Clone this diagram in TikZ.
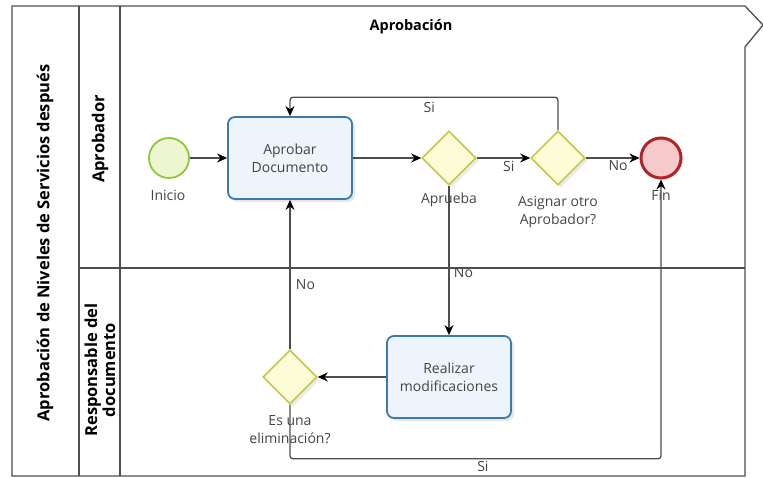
\documentclass[tikz,border=0pt]{standalone}
\usepackage{fontspec}
\setmainfont{Open Sans}
\usetikzlibrary{shapes.geometric, arrows.meta, shadows}

\definecolor{lineGray}{HTML}{4E4E4E}
\definecolor{txtGray}{HTML}{444444}
\definecolor{startLine}{HTML}{8DC63F}
\definecolor{startFill}{HTML}{EEF6CF}
\definecolor{taskLine}{HTML}{3A7BAA}
\definecolor{taskFill}{HTML}{EDF4FB}
\definecolor{gateLine}{HTML}{C5C84A}
\definecolor{gateFill}{HTML}{FCFCD6}
\definecolor{endLine}{HTML}{B0252A}
\definecolor{endFill}{HTML}{F6CACA}

\begin{document}
\begin{tikzpicture}[x=1pt, y=-1pt,
  pool/.style={draw=lineGray, line width=1.3pt},
  lanelabel/.style={font=\fontsize{16.5}{18}\selectfont\bfseries, rotate=90, align=center, text=black},
  startev/.style={circle, draw=startLine, fill=startFill, line width=1.8pt, minimum size=40pt, inner sep=0pt},
  endev/.style={circle, draw=endLine, fill=endFill, line width=3pt, minimum size=40pt, inner sep=0pt,
    drop shadow={shadow xshift=2pt, shadow yshift=-2pt, opacity=0.15}},
  task/.style={rectangle, rounded corners=7pt, draw=taskLine, fill=taskFill, line width=1.8pt,
    minimum width=124pt, minimum height=82pt, align=center, text=txtGray,
    font=\fontsize{14}{18}\selectfont,
    drop shadow={shadow xshift=3pt, shadow yshift=-3pt, opacity=0.2}},
  gateway/.style={diamond, aspect=1, draw=gateLine, fill=gateFill, line width=1.6pt,
    minimum width=54pt, minimum height=54pt, inner sep=0pt,
    drop shadow={shadow xshift=3pt, shadow yshift=-3pt, opacity=0.15}},
  caption/.style={font=\fontsize{14}{18}\selectfont, text=txtGray, align=center},
  flow/.style={draw=lineGray, line width=1.3pt, rounded corners=3pt,
    -{Stealth[length=10pt, width=9pt, color=black]}}
]
\useasboundingbox (0,0) rectangle (763,478);

% Pool frame with chevron on the right
\draw[pool] (12,6) -- (745,6) -- (763,25) -- (745,47) -- (745,476) -- (12,476) -- cycle;
\draw[pool] (79,6) -- (79,476);
\draw[pool] (120,6) -- (120,476);
\draw[pool] (79,268) -- (745,268);

% Pool and lane labels
\node[font=\fontsize{14.5}{16}\selectfont\bfseries] (title) at (411,27) {Aprobación};
\node[lanelabel] (poollbl) at (45,243) {Aprobación de Niveles de Servicios después};
\node[lanelabel] (lane1) at (100,139) {Aprobador};
\node[lanelabel] (lane2) at (100,370) {Responsable del\\documento};

% Lane Aprobador
\node[startev] (start) at (169,158) {};
\node[caption] (startlbl) at (168,195) {Inicio};
\node[task] (aprobar) at (290,158) {Aprobar\\Documento};
\node[gateway] (aprueba) at (449,158) {};
\node[caption] (apruebalbl) at (449,200) {Aprueba};
\node[gateway] (asignar) at (558,158) {};
\node[caption] (asignarlbl) at (558,212) {Asignar otro\\Aprobador?};
\node[caption] (finlbl) at (661,195) {Fin};
\node[endev] (fin) at (661,158) {};

% Lane Responsable del documento
\node[task] (realizar) at (449,377) {Realizar\\modificaciones};
\node[gateway] (elimina) at (290,377) {};
\node[caption] (eliminalbl) at (290,430) {Es una\\eliminación?};

% Sequence flows
\draw[flow] (start) -- (aprobar);
\draw[flow] (aprobar) -- (aprueba);
\draw[flow] (aprueba) -- node[caption, pos=0.6, below=-1pt] {Si} (asignar);
\draw[flow] (asignar) -- node[caption, pos=0.6, below=-1pt] {No} (fin);
\draw[flow] (asignar.north) -- ++(0,-33) -| node[caption, pos=0.24, below=1pt] {Si} (aprobar.north);
\draw[flow] (aprueba.south) -- node[caption, pos=0.58, right=1pt] {No} (realizar.north);
\draw[flow] (realizar) -- (elimina);
\draw[flow] (elimina.north) -- node[caption, pos=0.43, right=2pt] {No} (aprobar.south);
\draw[flow] (elimina.south) -- ++(0,54) -| node[caption, pos=0.26, below=-2pt] {Si} (fin.south);

\end{tikzpicture}
\end{document}
